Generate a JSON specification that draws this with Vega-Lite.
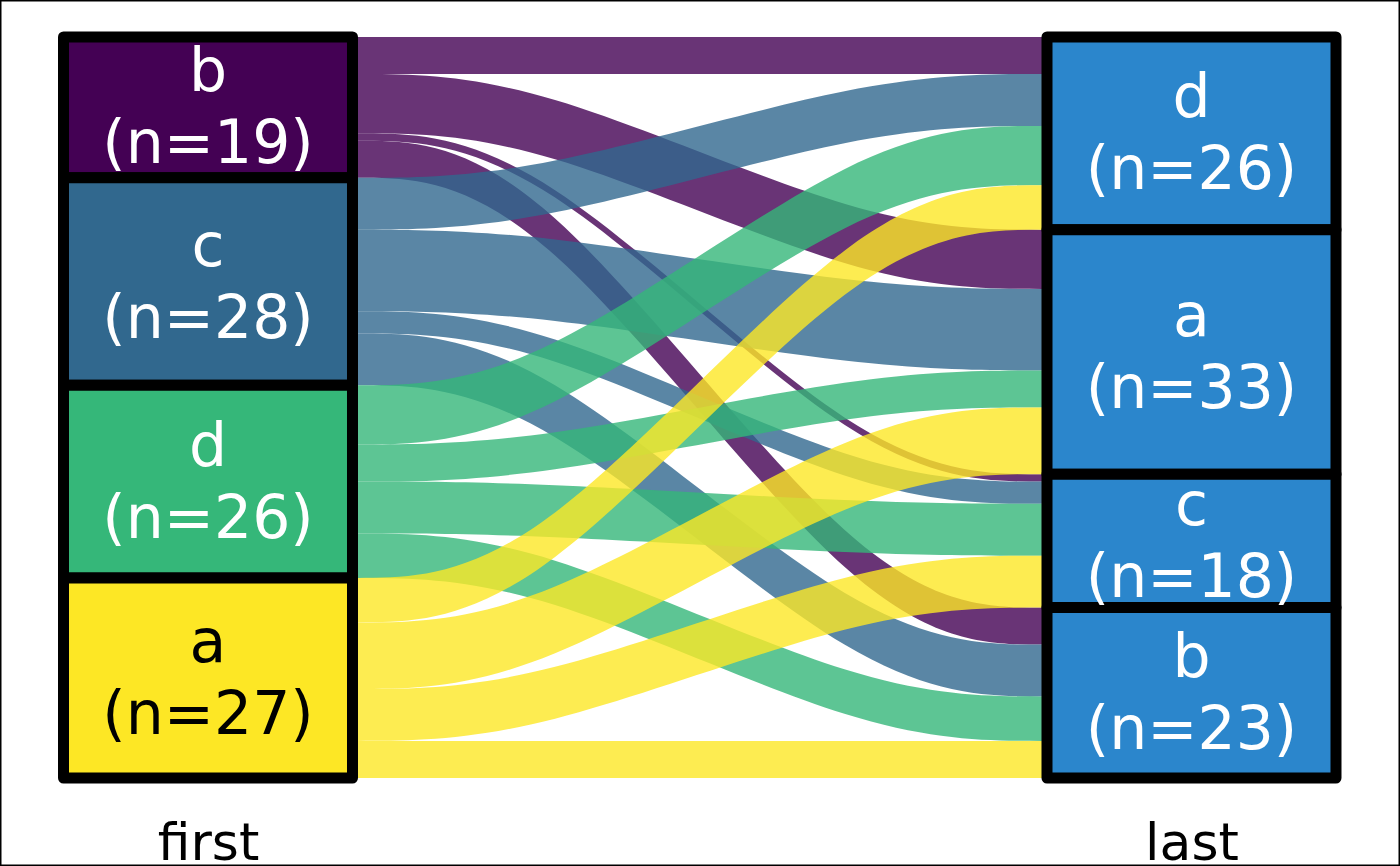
{
  "$schema": "https://vega.github.io/schema/vega-lite/v6.json",
  "width": 1400,
  "height": 866,
  "autosize": {"type": "none"},
  "padding": 0,
  "background": "white",
  "config": {"view": {"stroke": "black", "strokeWidth": 3}},
  "datasets": {
    "flows": [
      {"first": "b", "last": "d", "n": 5},
      {"first": "b", "last": "a", "n": 8},
      {"first": "b", "last": "c", "n": 1},
      {"first": "b", "last": "b", "n": 5},
      {"first": "c", "last": "d", "n": 7},
      {"first": "c", "last": "a", "n": 11},
      {"first": "c", "last": "c", "n": 3},
      {"first": "c", "last": "b", "n": 7},
      {"first": "d", "last": "d", "n": 8},
      {"first": "d", "last": "a", "n": 5},
      {"first": "d", "last": "c", "n": 7},
      {"first": "d", "last": "b", "n": 6},
      {"first": "a", "last": "d", "n": 6},
      {"first": "a", "last": "a", "n": 9},
      {"first": "a", "last": "c", "n": 7},
      {"first": "a", "last": "b", "n": 5}
    ]
  },
  "data": {"name": "flows"},
  "layer": [
    {
      "transform": [
        {"calculate": "indexof(['b','c','d','a'], datum.first)", "as": "rf"},
        {"calculate": "indexof(['d','a','c','b'], datum.last)", "as": "rl"},
        {"window": [{"op": "sum", "field": "n", "as": "cl"}], "sort": [{"field": "rf"}, {"field": "rl"}], "frame": [null, 0]},
        {"window": [{"op": "sum", "field": "n", "as": "cr"}], "sort": [{"field": "rl"}, {"field": "rf"}], "frame": [null, 0]},
        {"calculate": "datum.first + '-' + datum.last", "as": "id"},
        {"calculate": "1", "as": "p1"},
        {"calculate": "1 + 0.14692", "as": "p2"},
        {"calculate": "1 + 0.14692 + 0.17654", "as": "p3"},
        {"calculate": "2 - 0.14692 - 0.17654", "as": "p4"},
        {"calculate": "2 - 0.14692", "as": "p5"},
        {"calculate": "2", "as": "p6"},
        {"fold": ["p1", "p2", "p3", "p4", "p5", "p6"], "as": ["pt", "x"]},
        {"calculate": "datum.x < 1.5 ? datum.cl - datum.n : datum.cr - datum.n", "as": "ylo"},
        {"calculate": "datum.x < 1.5 ? datum.cl : datum.cr", "as": "yhi"}
      ],
      "mark": {"type": "area", "interpolate": "basis", "opacity": 0.8},
      "encoding": {
        "x": {
          "field": "x", "type": "quantitative",
          "scale": {"domain": [0.78851, 2.212], "nice": false, "zero": false},
          "axis": {
            "values": [1, 2],
            "labelExpr": "datum.value === 1 ? 'first' : 'last'",
            "labelFontSize": 52,
            "labelFont": "DejaVu Sans",
            "labelColor": "black",
            "domain": false,
            "ticks": false,
            "grid": false,
            "title": null,
            "labelPadding": -7,
            "labelBaseline": "alphabetic",
            "labelFlush": false,
            "labelOverlap": false
          }
        },
        "y": {
          "field": "ylo", "type": "quantitative", "stack": null,
          "scale": {"domain": [-4.9933, 111.876], "reverse": true, "nice": false, "zero": false},
          "axis": null
        },
        "y2": {"field": "yhi"},
        "color": {
          "field": "first", "type": "nominal",
          "scale": {"domain": ["a", "b", "c", "d"], "range": ["#FDE725", "#440154", "#31688E", "#35B779"]},
          "legend": null
        },
        "detail": {"field": "id"}
      }
    },
    {
      "transform": [
        {"fold": ["first", "last"], "as": ["axis", "stratum"]},
        {"aggregate": [{"op": "sum", "field": "n", "as": "N"}], "groupby": ["axis", "stratum"]},
        {"calculate": "datum.axis === 'first' ? indexof(['b','c','d','a'], datum.stratum) : indexof(['d','a','c','b'], datum.stratum)", "as": "rank"},
        {"window": [{"op": "sum", "field": "N", "as": "cum"}], "groupby": ["axis"], "sort": [{"field": "rank"}], "frame": [null, 0]},
        {"calculate": "datum.cum - datum.N", "as": "y0"},
        {"calculate": "datum.cum - datum.N / 2", "as": "ym"},
        {"calculate": "datum.axis === 'first' ? 1 : 2", "as": "xc"},
        {"calculate": "datum.xc - 0.14692", "as": "xl"},
        {"calculate": "datum.xc + 0.14692", "as": "xr"},
        {"calculate": "datum.stratum + '\\n(n=' + datum.N + ')'", "as": "label"}
      ],
      "layer": [
        {
          "mark": {"type": "rect", "stroke": "black", "strokeWidth": 11, "strokeJoin": "round"},
          "encoding": {
            "x": {"field": "xl", "type": "quantitative"},
            "x2": {"field": "xr"},
            "y": {"field": "y0", "type": "quantitative"},
            "y2": {"field": "cum"},
            "color": {
              "condition": {"test": "datum.axis === 'last'", "value": "#2B86CC"},
              "field": "stratum", "type": "nominal",
              "scale": {"domain": ["a", "b", "c", "d"], "range": ["#FDE725", "#440154", "#31688E", "#35B779"]},
              "legend": null
            }
          }
        },
        {
          "mark": {"type": "text", "font": "DejaVu Sans", "fontSize": 60, "lineBreak": "\n", "lineHeight": 72, "align": "center", "baseline": "middle", "dy": -34},
          "encoding": {
            "x": {"field": "xc", "type": "quantitative"},
            "y": {"field": "ym", "type": "quantitative"},
            "text": {"field": "label"},
            "color": {
              "condition": {"test": "datum.axis === 'first' && datum.stratum === 'a'", "value": "black"},
              "value": "white"
            }
          }
        }
      ]
    }
  ]
}
